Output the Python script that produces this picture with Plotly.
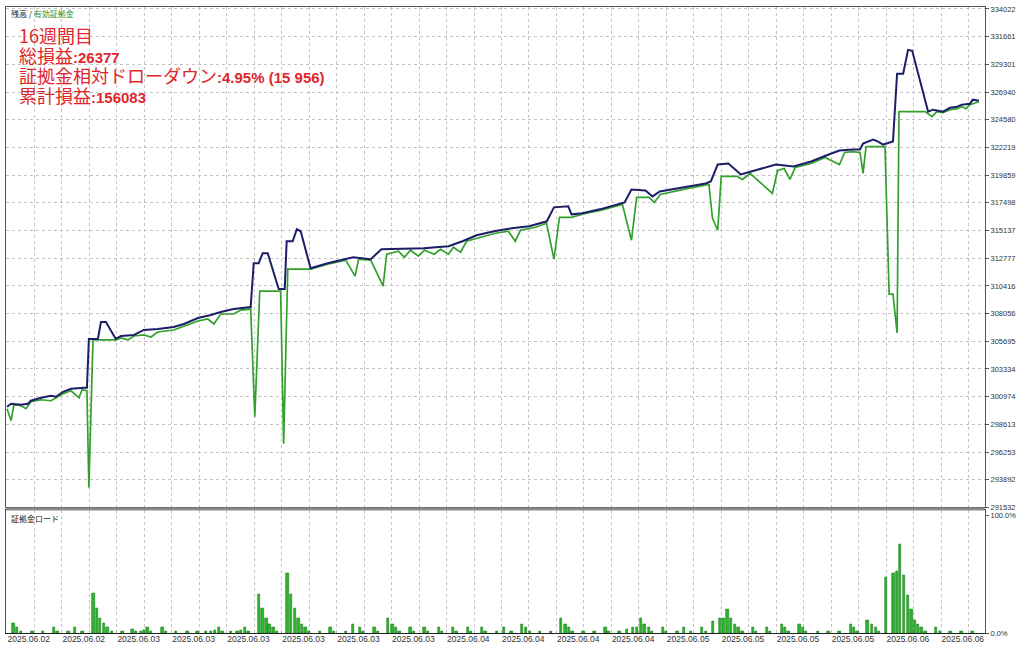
import plotly.graph_objects as go

# ---------------- data (deal number on x) ----------------
balance_x = [0, 1.5, 5.1, 7.6, 8.7, 12.4, 16.0, 17.8, 20.4, 23.3, 28.0, 29.1, 29.8, 33.1, 34.2, 36.0,
             39.6, 41.5, 46.2, 49.8, 54.9, 60.7, 64.4, 69.5, 74.2, 77.8, 82.5, 88.7, 89.8, 91.6,
             93.1, 94.9, 98.9, 101.1, 101.8, 104.0, 105.5, 106.9, 110.5, 116.7, 126.0, 132.4,
             136.3, 145.3, 151.7, 160.7, 165.8, 170.9, 177.3, 183.7, 190.1, 196.5, 199.1, 204.3,
             205.5, 209.4, 215.8, 224.8, 227.3, 232.4, 235.0, 237.6, 247.8, 254.3, 256.2, 258.7,
             262.6, 267.1, 270.9, 279.9, 286.3, 292.7, 299.1, 303.0, 307.9, 310.5, 311.6, 315.3,
             317.1, 318.9, 322.5, 324.0, 326.2, 328.0, 329.5, 335.3, 337.1, 340.7, 343.3, 345.8,
             347.6, 350.5, 351.6, 353.8]
balance = [300115, 300370, 300285, 300370, 300625, 300880, 301050, 300965, 301390, 301645, 301730,
           301730, 305893, 305893, 307338, 307338, 305893, 306148, 306233, 306658, 306743, 306913,
           307168, 307678, 307933, 308188, 308443, 308613, 312353, 312353, 313203, 313203, 310143,
           310143, 314222, 314222, 315242, 315072, 311928, 312353, 312863, 312693, 313543, 313627,
           313627, 313797, 314222, 314732, 315072, 315327, 315497, 315921, 317111, 317196, 316516,
           316601, 316941, 317535, 318640, 318555, 318045, 318470, 318895, 319150, 319320, 320765,
           320850, 319915, 320170, 320765, 320595, 321020, 321615, 321955, 322040, 322040, 322550,
           322890, 322720, 322465, 322720, 328498, 328498, 330538, 330453, 325269, 325439, 325269,
           325609, 325694, 325864, 325949, 326289, 326204]

equity_x = [0, 0.7, 1.5, 2.5, 5.1, 6.9, 8.7, 12.4, 16.0, 20.4, 23.3, 26.2, 27.3, 29.1, 29.8, 31.3,
            39.6, 41.5, 44.0, 46.2, 49.8, 52.4, 54.9, 60.7, 64.4, 69.5, 73.1, 75.3, 77.8, 82.5,
            85.1, 88.7, 90.2, 92.0, 99.6, 100.7, 102.2, 110.5, 116.7, 123.3, 126.7, 128.0, 132.4,
            136.9, 138.2, 142.5, 144.6, 146.9, 149.7, 152.0, 155.5, 157.8, 160.7, 162.5, 165.1,
            167.3, 172.4, 177.8, 182.5, 185.0, 186.9, 192.4, 196.4, 199.1, 201.1, 205.5, 210.5,
            216.0, 224.0, 227.3, 229.2, 233.7, 235.6, 237.8, 248.0, 254.2, 255.5, 256.8, 258.7,
            260.0, 265.8, 267.7, 270.5, 278.6, 280.5, 282.9, 285.0, 286.9, 292.7, 297.8, 303.0,
            304.9, 307.6, 310.5, 311.6, 312.7, 319.6, 321.1, 322.5, 324.0, 324.7, 334.2, 336.7,
            338.5, 340.7, 343.3, 345.8, 347.6, 349.1, 350.5, 353.8]
equity = [299945, 299435, 298925, 300285, 300200, 299945, 300540, 300710, 300625, 301220, 301475,
          300880, 301560, 301475, 293231, 305808, 305808, 305978, 305808, 306148, 306233, 306063,
          306488, 306658, 306998, 307423, 307593, 307168, 308018, 308018, 308358, 308443, 299265,
          309973, 309973, 296970, 311843, 311843, 312268, 312608, 311248, 312693, 312608, 310398,
          313118, 313373, 312863, 313458, 312948, 313458, 313118, 313543, 313118, 313713, 313288,
          314222, 314562, 314902, 315072, 314222, 315157, 315412, 315752, 312693, 316261, 316261,
          316601, 316856, 317366, 314307, 317960, 317960, 317535, 318215, 318725, 318980, 319065,
          316176, 315157, 319745, 319745, 319490, 320000, 318300, 320255, 320425, 319490, 320510,
          320850, 321360, 320765, 321785, 321870, 321785, 320000, 322295, 322295, 309718, 309718,
          306403, 325269, 325269, 324844, 325269, 325184, 325439, 325524, 325694, 325524, 325864,
          326119]

load_x = [2.4, 3.6, 5.1, 9.3, 13.0, 17.0, 18.4, 22.4, 24.7, 27.5, 31.5, 32.7, 33.9, 35.4, 36.6,
          38.1, 42.1, 45.7, 46.9, 48.7, 49.9, 51.2, 52.4, 56.6, 57.8, 61.5, 65.7, 69.3, 72.4,
          74.2, 75.7, 77.2, 78.4, 81.5, 83.9, 85.1, 86.7, 87.9, 91.7, 93.0, 94.4, 95.6, 97.0,
          98.4, 102.1, 103.3, 104.8, 106.1, 107.5, 108.7, 109.9, 113.9, 117.8, 119.0, 123.3,
          125.9, 128.4, 129.6, 133.8, 135.0, 138.7, 140.3, 141.7, 142.9, 146.9, 148.1, 152.0,
          153.2, 157.2, 158.4, 162.4, 163.6, 167.7, 169.0, 173.0, 174.2, 178.4, 180.8, 183.6,
          187.5, 189.0, 190.3, 193.9, 198.1, 201.7, 203.3, 204.5, 205.9, 209.9, 213.8, 217.8,
          219.0, 223.0, 225.7, 227.9, 229.3, 230.9, 232.1, 233.6, 234.8, 238.8, 240.0, 244.1,
          246.5, 249.0, 253.0, 254.4, 257.0, 259.6, 260.8, 262.3, 263.5, 265.1, 266.3, 267.7,
          271.5, 272.7, 276.6, 277.8, 282.1, 283.3, 284.5, 288.5, 289.7, 290.9, 295.2, 299.0,
          303.0, 307.2, 308.4, 309.6, 313.2, 314.8, 316.3, 317.5, 319.9, 322.7, 323.9, 325.1,
          326.5, 327.9, 329.3, 330.5, 331.7, 332.9, 334.4, 338.2, 339.6, 343.5, 347.5, 351.5]
load_pct = [8, 4.4, 1.5, 1.5, 1.5, 4.4, 1.5, 1.5, 4.4, 1.5, 34, 20.8, 12.3, 8, 4.4,
            1.5, 1.5, 3, 1.5, 1.5, 2, 4.4, 1.5, 4.4, 1.5, 1.5, 1.5, 1.5, 1.5,
            1.5, 2, 4.4, 1.5, 1.5, 1.5, 2, 4.4, 1.5, 33, 20.8, 12.3, 7.3, 4.4,
            1.5, 50.4, 33, 20.8, 12.3, 7.3, 4.4, 1.5, 1.5, 4.4, 1.5, 1.5,
            7.3, 4.4, 1.5, 4.4, 1.5, 12.3, 7.3, 4.4, 1.5, 4.4, 1.5, 4.4,
            1.5, 4.4, 1.5, 4.4, 1.5, 4.4, 1.5, 4.4, 1.5, 1.5, 4.4, 1.5,
            7.3, 4.4, 1.5, 1.5, 1.5, 12.3, 7.3, 4.4, 1.5, 1.5, 1.5, 4.4,
            1.5, 1.5, 3, 4.4, 4.4, 12.3, 7.3, 4.4, 1.5, 4.4, 1.5, 1.5,
            4.4, 1.5, 4.4, 1.5, 10, 12.3, 12.3, 20, 12.3, 7.3, 4.4, 1.5,
            4.4, 1.5, 4.4, 1.5, 7.3, 4.4, 1.5, 7.3, 4.4, 1.5, 1.5, 1.5,
            1.5, 7.3, 4.4, 1.5, 11, 7.3, 4.4, 1.5, 47.6, 51, 52, 75,
            49, 32, 20, 11, 7.3, 4.4, 1.5, 4.4, 1.5, 1.5, 1.5, 1.5]

y_ticks = [334022, 331661, 329301, 326940, 324580, 322219, 319859, 317498, 315137, 312777,
           310416, 308056, 305695, 303334, 300974, 298613, 296253, 293892, 291532]
x_tick_deals = [0, 20, 40, 60, 80, 100, 120, 140, 160, 180, 200, 220, 240, 260, 280, 300, 320, 340]
x_tick_labels = ["2025.06.02", "2025.06.02", "2025.06.03", "2025.06.03", "2025.06.03", "2025.06.03",
                 "2025.06.03", "2025.06.03", "2025.06.04", "2025.06.04", "2025.06.04", "2025.06.04",
                 "2025.06.05", "2025.06.05", "2025.06.05", "2025.06.05", "2025.06.06", "2025.06.06"]
load_ticks = [0, 100]
load_tick_labels = ["0.0%", "100.0%"]

info_lines = [("16週間目", ""), ("総損益", ":26377"),
              ("証拠金相対ドローダウン", ":4.95% (15 956)"), ("累計損益", ":156083")]

# ---------------- figure ----------------
NAVY = "#1c1f66"
GREEN = "#33a02c"
RED = "#e0262b"
GRID = "#c4c4c4"
AXC = "#555555"
TICKF = dict(family="Liberation Sans, Arial, sans-serif", size=7.5, color="#333333")

fig = go.Figure()
fig.add_trace(go.Scatter(x=equity_x, y=equity, mode="lines", line=dict(color=GREEN, width=1.7),
                         xaxis="x", yaxis="y", hoverinfo="skip"))
fig.add_trace(go.Scatter(x=balance_x, y=balance, mode="lines", line=dict(color=NAVY, width=2),
                         xaxis="x", yaxis="y", hoverinfo="skip"))
fig.add_trace(go.Bar(x=load_x, y=load_pct, width=0.85, marker=dict(color="#2db52d",
                     line=dict(color="#1a7d1a", width=0.6)), xaxis="x2", yaxis="y2",
                     hoverinfo="skip"))

xr = [-0.364, 356.0]
top_dom = [(633 - 507) / 628, 1]
bot_dom = [0, (633 - 510) / 628]
minor_grid = dict(dtick=10, tick0=0, showgrid=True, gridcolor=GRID, griddash="3px,3px", gridwidth=1)

fig.update_layout(
    width=1024, height=649, margin=dict(l=5, r=39, t=5, b=16),
    paper_bgcolor="white", plot_bgcolor="white", showlegend=False, bargap=0,
    xaxis=dict(domain=[0, 1], range=xr, anchor="y", tickvals=x_tick_deals, showticklabels=False,
               showgrid=False, minor=minor_grid, showline=True, linecolor=AXC, linewidth=1,
               mirror=True, ticks="", zeroline=False),
    yaxis=dict(domain=top_dom, range=[291532, 334022 + 2 * 84.98], side="right", anchor="x",
               tickvals=y_ticks, ticktext=[str(v) for v in y_ticks], tickfont=TICKF,
               ticks="outside", ticklen=3, tickcolor=AXC,
               showgrid=True, gridcolor=GRID,
               griddash="3px,3px", showline=True, linecolor=AXC, mirror=True, zeroline=False),
    xaxis2=dict(domain=[0, 1], range=xr, anchor="y2", matches="x", tickvals=x_tick_deals,
                ticktext=x_tick_labels, tickfont=dict(family="Liberation Sans, Arial, sans-serif",
                size=8.5, color="#333333"), ticklabelposition="outside right", ticks="",
                ticklabelstandoff=-2,
                showgrid=False, minor=minor_grid, showline=True, linecolor="#222222",
                linewidth=1, mirror=True, zeroline=False),
    yaxis2=dict(domain=bot_dom, range=[0, 104.2], side="right", anchor="x2", tickvals=load_ticks,
                ticktext=load_tick_labels, tickfont=TICKF, ticks="outside", ticklen=3,
                tickcolor=AXC, showgrid=False, showline=True,
                linecolor=AXC, mirror=True, zeroline=False),
)

# separator band between panels
fig.add_shape(type="rect", xref="paper", yref="paper", x0=0, x1=1,
              y0=(633 - 510) / 628, y1=(633 - 507) / 628, fillcolor="#8a8a8a", line=dict(width=0))

# legends inside panels
fig.add_annotation(xref="paper", yref="paper", x=0, y=(633 - 12) / 628, xshift=3, xanchor="left",
                   yanchor="middle", showarrow=False,
                   text="残高 / <span style='color:#1f8f1f'>有効証拠金</span>",
                   font=dict(family="Noto Sans CJK JP", size=8, color="#222222"))
fig.add_annotation(xref="paper", yref="paper", x=0, y=(633 - 518) / 628, xshift=3, xanchor="left",
                   yanchor="middle", showarrow=False, text="証拠金ロード",
                   font=dict(family="Noto Sans CJK JP", size=8, color="#222222"))

# red info block: one multi-line text, base size 15.4 -> 20 px line pitch
parts = []
for jp, num in info_lines:
    s = "<span style='font-size:18px'>" + jp + "</span>"
    if num:
        s += ("<span style='font-family:Liberation Sans, Arial;font-size:15px'><b>" + num +
              "</b></span>")
    parts.append(s)
fig.add_annotation(xref="paper", yref="paper", x=0, y=(633 - 63) / 628, xshift=11,
                   xanchor="left", yanchor="middle", align="left", showarrow=False,
                   text="<br>".join(parts),
                   font=dict(family="Noto Sans CJK JP", size=15.4, color=RED))

fig.write_html("out.html", config={"displayModeBar": False},
               post_script="document.body.style.margin='0';"
               "document.body.style.overflow='hidden';")
